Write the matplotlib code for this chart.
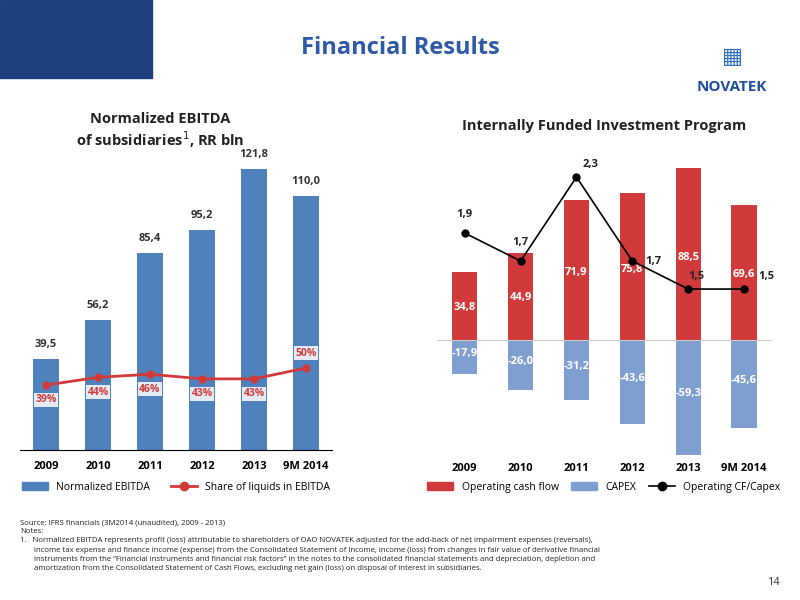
import matplotlib
matplotlib.use("Agg")
import matplotlib.pyplot as plt
from matplotlib.lines import Line2D
from matplotlib.patches import Patch, Rectangle

plt.rcParams['font.family'] = ['Open Sans', 'DejaVu Sans']

years = ["2009", "2010", "2011", "2012", "2013", "9M 2014"]
ebitda = [39.5, 56.2, 85.4, 95.2, 121.8, 110.0]
liquids_share = [39, 44, 46, 43, 43, 50]
op_cf = [34.8, 44.9, 71.9, 75.8, 88.5, 69.6]
capex = [-17.9, -26.0, -31.2, -43.6, -59.3, -45.6]
cf_capex = [1.9, 1.7, 2.3, 1.7, 1.5, 1.5]

def fmt(v):
    return f"{v:.1f}".replace(".", ",")

BLUE = "#4f81bd"; RED = "#d03a3a"; CAP = "#7f9fd0"
fig = plt.figure(figsize=(8, 6), dpi=100)
fig.patches.append(Rectangle((0, 0.87), 0.19, 0.13, transform=fig.transFigure, color="#1f3f7f", zorder=0))
fig.text(0.5, 0.92, "Financial Results", ha="center", va="center", fontsize=17, fontweight="bold", color="#2f5aa8")
fig.text(0.915, 0.855, "NOVATEK", ha="center", va="center", fontsize=11, fontweight="bold", color="#1f4f9f")
fig.text(0.915, 0.905, "▦", ha="center", va="center", fontsize=16, color="#2f6fbf", family=["DejaVu Sans"])

# Left chart
ax = fig.add_axes([0.025, 0.25, 0.39, 0.5])
x = range(len(years))
ax.bar(x, ebitda, width=0.5, color=BLUE)
ax.set_ylim(0, 130)
ax.set_xlim(-0.5, 5.5)
for i, v in enumerate(ebitda):
    ax.text(i, v + 4, fmt(v), ha="center", va="bottom", fontsize=8, fontweight="bold", color="#333")
for s in ["top", "left", "right"]:
    ax.spines[s].set_visible(False)
ax.set_yticks([])
ax.set_xticks(list(x)); ax.set_xticklabels(years, fontsize=8, fontweight="bold")
ax.tick_params(axis="x", length=0, pad=8)
ax2 = ax.twinx()
ax2.plot(x, liquids_share, color=RED, marker="o", lw=2, ms=5)
ax2.set_ylim(-3, 191)
ax2.axis("off")
for i, v in enumerate(liquids_share):
    above = i == 5
    ax2.text(i, v + 6 if above else v - 6, f"{v}%", ha="center", va="bottom" if above else "top",
             fontsize=7.5, fontweight="bold", color=RED,
             bbox=dict(boxstyle="square,pad=0.15", fc="white", ec="none", alpha=0.85))
fig.text(0.2, 0.782, "Normalized EBITDA\nof subsidiaries$^1$, RR bln", ha="center", va="center",
         fontsize=10.5, fontweight="bold", color="#222")
fig.legend(handles=[Patch(color=BLUE, label="Normalized EBITDA"),
                    Line2D([], [], color=RED, marker="o", lw=2, label="Share of liquids in EBITDA")],
           loc="center", bbox_to_anchor=(0.22, 0.188), ncol=2, frameon=False, fontsize=7.5, handlelength=2.5)

# Right chart
bx = fig.add_axes([0.546, 0.2333, 0.419, 0.4917])
bx.bar(x, op_cf, width=0.45, color=RED)
bx.bar(x, capex, width=0.45, color=CAP)
bx.set_ylim(-62, 90)
bx.set_xlim(-0.5, 5.5)
bx.axhline(0, color="#ccc", lw=0.8)
for i, v in enumerate(op_cf):
    bx.text(i, v * 0.48, fmt(v), ha="center", va="center", fontsize=8, fontweight="bold", color="white")
for i, v in enumerate(capex):
    bx.text(i, v / 2 + 2, fmt(v), ha="center", va="center", fontsize=8, fontweight="bold", color="white")
for s in ["top", "left", "right", "bottom"]:
    bx.spines[s].set_visible(False)
bx.set_yticks([])
bx.set_xticks(list(x)); bx.set_xticklabels(years, fontsize=8, fontweight="bold")
bx.tick_params(axis="x", length=0, pad=2)
bx2 = bx.twinx()
bx2.plot(x, cf_capex, color="black", marker="o", lw=1.2, ms=5)
bx2.set_ylim(0.279, 2.386)
bx2.axis("off")
offs = [(0, 0.09), (0, 0.09), (0.25, 0.05), (0.38, 0), (0.15, 0.05), (0.4, 0.05)]
for i, v in enumerate(cf_capex):
    dx, dy = offs[i]
    bx2.text(i + dx, v + dy, fmt(v), ha="center", va="bottom" if dy else "center",
             fontsize=8, fontweight="bold", color="#222")
fig.text(0.755, 0.79, "Internally Funded Investment Program", ha="center", va="center",
         fontsize=10.5, fontweight="bold", color="#222")
fig.legend(handles=[Patch(color=RED, label="Operating cash flow"), Patch(color=CAP, label="CAPEX"),
                    Line2D([], [], color="black", marker="o", lw=1.2, label="Operating CF/Capex")],
           loc="center", bbox_to_anchor=(0.755, 0.188), ncol=3, frameon=False, fontsize=7.5,
           handlelength=2.5, columnspacing=1.2)

notes = ("Source: IFRS financials (3M2014 (unaudited), 2009 - 2013)\nNotes:\n"
         "1.   Normalized EBITDA represents profit (loss) attributable to shareholders of OAO NOVATEK adjusted for the add-back of net impairment expenses (reversals),\n"
         "       income tax expense and finance income (expense) from the Consolidated Statement of Income, income (loss) from changes in fair value of derivative financial\n"
         "       instruments from the \u201cFinancial instruments and financial risk factors\u201d in the notes to the consolidated financial statements and depreciation, depletion and\n"
         "       amortization from the Consolidated Statement of Cash Flows, excluding net gain (loss) on disposal of interest in subsidiaries.")
fig.text(0.025, 0.135, notes, ha="left", va="top", fontsize=5.6, color="#222", linespacing=1.45)
fig.text(0.975, 0.02, "14", ha="right", va="bottom", fontsize=8, color="#333")

fig.savefig("out.png", dpi=100)
